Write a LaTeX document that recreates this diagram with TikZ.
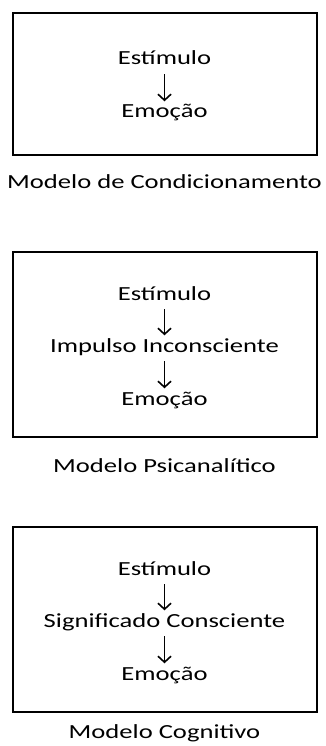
\documentclass[tikz,border=0pt]{standalone}
\usepackage{fontspec}
\setmainfont{Carlito}[FakeStretch=1.33]
\usetikzlibrary{arrows.meta}

\begin{document}
\begin{tikzpicture}[x=1pt,y=-1pt,
  modelbox/.style={draw, line width=2pt},
  item/.style={font=\fontsize{20}{24}\selectfont, inner sep=0pt, text height=15pt, text depth=4pt, anchor=base},
  caption/.style={font=\fontsize{20}{24}\selectfont, inner sep=0pt, anchor=base},
  flow/.style={-{Straight Barb[length=6pt,width=13pt]}, line width=1.6pt, shorten <=5pt, shorten >=1.5pt}]
\useasboundingbox (0,0) rectangle (325,746);
% Modelo de Condicionamento
\draw [modelbox] (12.5,13) rectangle (317,155.5);
\node [item] (est1) at (164.5,65) {Estímulo};
\node [item] (emo1) at (164.5,118) {Emoção};
\draw [flow] (est1) -- (emo1);
\node [caption] (cap1) at (164.5,188) {Modelo de Condicionamento};
% Modelo Psicanalítico
\draw [modelbox] (12.5,252) rectangle (317,436.5);
\node [item] (est2) at (164.5,300) {Estímulo};
\node [item] (imp2) at (164.5,352) {Impulso Inconsciente};
\node [item] (emo2) at (164.5,405) {Emoção};
\draw [flow] (est2) -- (imp2);
\draw [flow] (imp2) -- (emo2);
\node [caption] (cap2) at (164.5,472) {Modelo Psicanalítico};
% Modelo Cognitivo
\draw [modelbox] (12.5,527) rectangle (317,711.5);
\node [item] (est3) at (164.5,575) {Estímulo};
\node [item] (sig3) at (164.5,627) {Significado Consciente};
\node [item] (emo3) at (164.5,680) {Emoção};
\draw [flow] (est3) -- (sig3);
\draw [flow] (sig3) -- (emo3);
\node [caption] (cap3) at (164.5,738) {Modelo Cognitivo};
\end{tikzpicture}
\end{document}
